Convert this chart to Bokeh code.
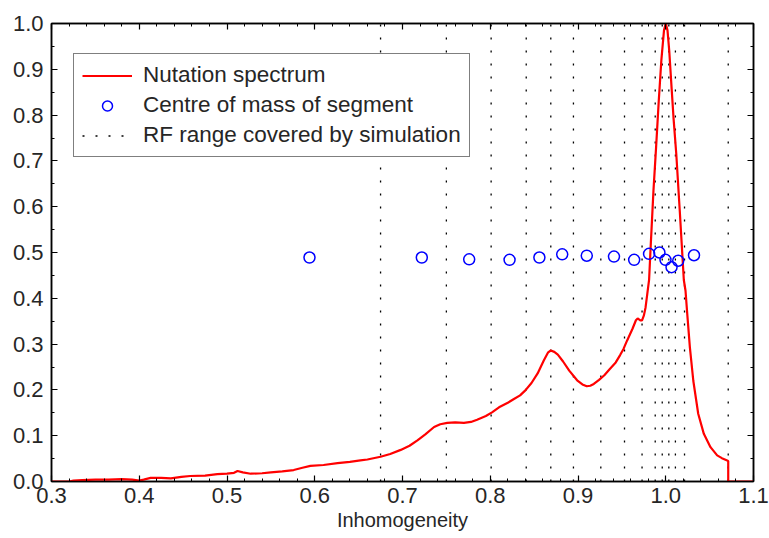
from bokeh.plotting import figure
from bokeh.models import (LinearAxis, FixedTicker, PrintfTickFormatter, Range1d,
                          Legend, LegendItem)
from bokeh.embed import file_html
from bokeh.resources import INLINE

# Nutation spectrum (normalised intensity vs. inhomogeneity)
spec_x = [0.300, 0.320, 0.325, 0.335, 0.350, 0.365, 0.380, 0.392, 0.400, 0.405,
          0.413, 0.425, 0.436, 0.448, 0.458, 0.475, 0.489, 0.500, 0.508, 0.512,
          0.518, 0.527, 0.540, 0.550, 0.563, 0.576, 0.586, 0.595, 0.610, 0.626,
          0.640, 0.652, 0.660, 0.675, 0.686, 0.698, 0.708, 0.717, 0.726, 0.736,
          0.743, 0.751, 0.760, 0.770, 0.778, 0.785, 0.795, 0.802, 0.810, 0.820,
          0.827, 0.834, 0.840, 0.847, 0.854, 0.861, 0.866, 0.869, 0.873, 0.877,
          0.883, 0.890, 0.899, 0.905, 0.910, 0.914, 0.918, 0.924, 0.930, 0.936,
          0.943, 0.948, 0.952, 0.956, 0.962, 0.966, 0.968, 0.971, 0.973, 0.975,
          0.977, 0.979, 0.981, 0.983, 0.986, 0.989, 0.992, 0.995, 0.998, 1.000,
          1.002, 1.004, 1.0066, 1.009, 1.012, 1.016, 1.0206, 1.0225, 1.0245, 1.0275,
          1.0314, 1.037, 1.0434, 1.051, 1.0586, 1.064, 1.070, 1.0712, 1.0712, 1.100]
spec_y = [0.000, 0.000, 0.002, 0.003, 0.004, 0.004, 0.005, 0.004, 0.002, 0.004,
          0.008, 0.008, 0.007, 0.010, 0.012, 0.013, 0.016, 0.017, 0.019, 0.023,
          0.020, 0.017, 0.018, 0.020, 0.022, 0.025, 0.030, 0.034, 0.036, 0.040,
          0.043, 0.046, 0.048, 0.054, 0.060, 0.069, 0.078, 0.090, 0.103, 0.119,
          0.125, 0.128, 0.129, 0.128, 0.130, 0.135, 0.143, 0.151, 0.162, 0.172,
          0.180, 0.188, 0.199, 0.215, 0.236, 0.264, 0.282, 0.286, 0.283, 0.277,
          0.262, 0.242, 0.221, 0.212, 0.208, 0.209, 0.213, 0.222, 0.232, 0.245,
          0.260, 0.276, 0.290, 0.308, 0.333, 0.352, 0.356, 0.352, 0.352, 0.362,
          0.380, 0.410, 0.440, 0.520, 0.635, 0.730, 0.830, 0.920, 0.985, 1.000,
          0.985, 0.940, 0.861, 0.790, 0.715, 0.590, 0.440, 0.417, 0.366, 0.293,
          0.220, 0.148, 0.104, 0.075, 0.057, 0.051, 0.046, 0.045, 0.000, 0.000]

# Centre of mass of each simulated segment
com_x = [0.594, 0.722, 0.776, 0.822, 0.856, 0.882, 0.910, 0.941, 0.964, 0.981,
         0.9928, 0.9997, 1.0066, 1.0142, 1.0322]
com_y = [0.489, 0.489, 0.485, 0.484, 0.489, 0.496, 0.493, 0.491, 0.484, 0.497,
         0.500, 0.484, 0.468, 0.482, 0.494]

# Segment boundaries of the RF range covered by the simulation
rf_edges = [0.675, 0.750, 0.801, 0.841, 0.869, 0.8948, 0.926, 0.953, 0.973,
            0.988, 0.996, 1.0035, 1.011, 1.0214, 1.0712]

x_ticks = [0.3, 0.4, 0.5, 0.6, 0.7, 0.8, 0.9, 1.0, 1.1]
y_ticks = [0.0, 0.1, 0.2, 0.3, 0.4, 0.5, 0.6, 0.7, 0.8, 0.9, 1.0]
x_minor = [round(0.3 + 0.02 * i, 2) for i in range(41)]
y_minor = [round(0.05 * i, 2) for i in range(21)]

FONT = "Liberation Sans"
TEXT = "#262626"

p = figure(width=769, height=538, output_backend="svg", toolbar_location=None,
           x_range=Range1d(0.3, 1.1), y_range=Range1d(0.0, 1.0),
           min_border_left=51, min_border_right=16, min_border_top=23,
           min_border_bottom=57, background_fill_color="white",
           border_fill_color="white")
p.grid.visible = False
p.outline_line_color = "black"
p.outline_line_width = 1.5

xt = FixedTicker(ticks=x_ticks, minor_ticks=x_minor)
yt = FixedTicker(ticks=y_ticks, minor_ticks=y_minor)
fmt = PrintfTickFormatter(format="%.1f")


def style_axis(ax, ticker, show_labels):
    ax.ticker = ticker
    ax.formatter = fmt
    ax.axis_line_color = "black"
    ax.axis_line_width = 1.5
    ax.major_tick_line_color = "black"
    ax.minor_tick_line_color = "black"
    ax.major_tick_line_width = 1.2
    ax.minor_tick_line_width = 1.0
    ax.major_tick_in = 6
    ax.major_tick_out = 0
    ax.minor_tick_in = 3
    ax.minor_tick_out = 0
    if show_labels:
        ax.major_label_text_font = FONT
        ax.major_label_text_font_size = "22px"
        ax.major_label_text_color = TEXT
    else:
        # tick marks only on the mirrored axes
        ax.major_label_text_color = None
        ax.major_label_text_font_size = "1px"
        ax.major_label_standoff = 0


xb = p.below[0]
yl = p.left[0]
style_axis(xb, xt, True)
style_axis(yl, yt, True)
xb.major_label_standoff = 6
yl.major_label_standoff = 8
xb.axis_label = "Inhomogeneity"
xb.axis_label_text_font = FONT
xb.axis_label_text_font_size = "20px"
xb.axis_label_text_font_style = "normal"
xb.axis_label_text_color = TEXT
xb.axis_label_standoff = 3

xa = LinearAxis()
style_axis(xa, xt, False)
p.add_layout(xa, "above")
yr = LinearAxis()
style_axis(yr, yt, False)
p.add_layout(yr, "right")

r_rf = p.segment(x0=rf_edges, y0=0.0, x1=rf_edges, y1=1.0, line_color="black",
                 line_width=1.3, line_dash="2 11")
r_spec = p.line(spec_x, spec_y, line_color="#ff0000", line_width=2.2)
r_com = p.scatter(com_x, com_y, marker="circle", size=11, fill_color=None,
                  line_color="#0000ff", line_width=1.5)

legend = Legend(items=[LegendItem(label="Nutation spectrum", renderers=[r_spec]),
                       LegendItem(label="Centre of mass of segment", renderers=[r_com]),
                       LegendItem(label="RF range covered by simulation", renderers=[r_rf])],
                location=(22, 324), margin=0, padding=8, spacing=4,
                glyph_width=50, glyph_height=25, label_height=25, label_standoff=11,
                label_text_font=FONT, label_text_font_size="22.5px",
                label_text_color=TEXT, border_line_color="black",
                border_line_width=1.2, background_fill_color="white",
                background_fill_alpha=1.0)
p.add_layout(legend)

open("out.html", "w").write(file_html(p, INLINE))
